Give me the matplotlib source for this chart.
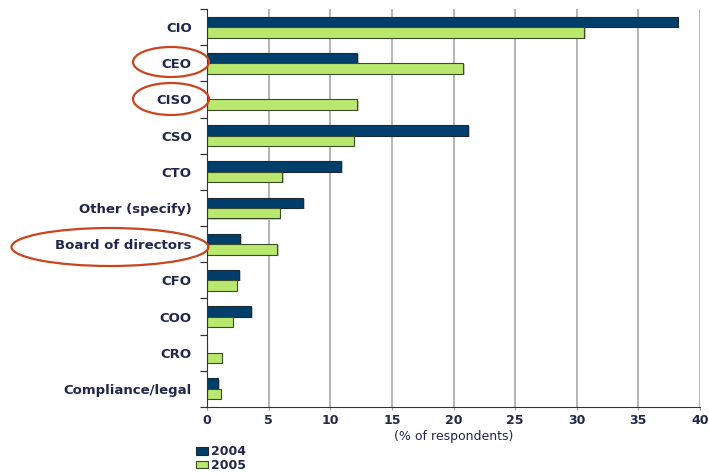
import numpy as np
import matplotlib
matplotlib.use("Agg")
import matplotlib.pyplot as plt
from matplotlib.patches import Ellipse

# values (% of respondents)
roles = ["CIO", "CEO", "CISO", "CSO", "CTO", "Other (specify)", "Board of directors",
         "CFO", "COO", "CRO", "Compliance/legal"]
y2004 = [38.2, 12.2, 0.0, 21.2, 10.9, 7.8, 2.7, 2.6, 3.6, 0.0, 0.9]
y2005 = [30.6, 20.8, 12.2, 11.9, 6.1, 5.9, 5.7, 2.4, 2.1, 1.2, 1.1]
xticks = [0, 5, 10, 15, 20, 25, 30, 35, 40]

navy = "#003f6b"
green = "#b8e86e"
txt = "#22264a"

plt.rcParams["font.family"] = "DejaVu Sans"
plt.rcParams["font.weight"] = "bold"

fig = plt.figure(figsize=(7.09, 4.74), dpi=100)
ax = fig.add_axes([207 / 709, 1 - 407 / 474, 493 / 709, 398 / 474])

n = len(roles)
pos = np.arange(n)
h = 0.29

# soft shadow behind the bars
ax.barh(pos - h / 2 + 0.03, y2004, height=h, left=0.12, color="#c8c8c8", zorder=2)
ax.barh(pos + h / 2 + 0.03, y2005, height=h, left=0.12, color="#c8c8c8", zorder=2)
ax.barh(pos - h / 2, y2004, height=h, color=navy, edgecolor="#1b2a33", lw=0.8,
        label="2004", zorder=3)
ax.barh(pos + h / 2, y2005, height=h, color=green, edgecolor="#3a4a2a", lw=0.8,
        label="2005", zorder=3)

ax.set_xlim(0, 40)
ax.set_ylim(n - 0.5, -0.5)
ax.set_xticks(xticks)
ax.tick_params(axis="x", length=2, width=0.8, color="#999999", labelsize=9,
               labelcolor=txt, pad=3)
ax.set_yticks(pos)
ax.set_yticklabels(roles)
ax.tick_params(axis="y", which="major", length=0, pad=11, labelsize=9.5, labelcolor=txt)
ax.set_yticks(np.arange(n + 1) - 0.5, minor=True)
ax.tick_params(axis="y", which="minor", length=5, width=0.9, color="#333333")

ax.grid(axis="x", color="#a0a0a0", lw=1.1, zorder=0)
for s in ["top", "right"]:
    ax.spines[s].set_visible(False)
ax.spines["left"].set_color("#333333")
ax.spines["bottom"].set_color("#333333")
ax.spines["left"].set_zorder(4)
ax.set_xlabel("(% of respondents)", fontsize=9, color=txt, labelpad=2)

fig.legend(loc="upper left", bbox_to_anchor=(190 / 709, 1 - 439 / 474), frameon=False,
           fontsize=9, handlelength=0.9, handleheight=0.6, handletextpad=0.3,
           labelspacing=0.05, borderpad=0, labelcolor=txt)

# red circles around highlighted roles
red = "#c8451e"
for cx, cy, w, hh in [(171, 62, 76, 30), (171, 99, 76, 32), (110, 247, 197, 38)]:
    fig.patches.append(Ellipse((cx / 709, 1 - cy / 474), w / 709, hh / 474,
                               transform=fig.transFigure, fill=False,
                               edgecolor=red, lw=1.6))

fig.savefig("out.png", dpi=100, facecolor="white")
